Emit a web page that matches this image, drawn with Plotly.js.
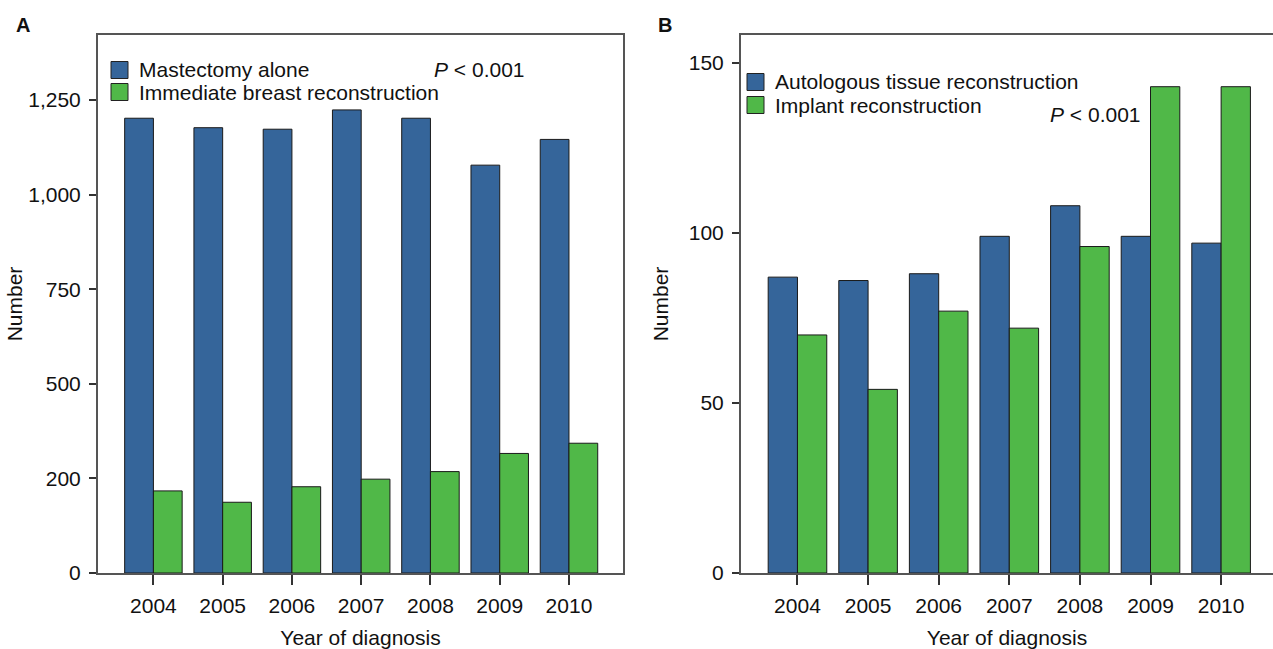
<!DOCTYPE html>
<html>
<head>
<meta charset="utf-8">
<script src="https://cdn.plot.ly/plotly-3.0.1.min.js"></script>
<style>html,body{margin:0;padding:0;background:#fff;}#chart{width:1273px;height:649px;}</style>
</head>
<body>
<div id="chart"></div>
<script>
// ---- Data ----
const years = ['2004', '2005', '2006', '2007', '2008', '2009', '2010'];
// Panel A
const mastectomyAlone = [1202, 1177, 1173, 1224, 1202, 1078, 1146];
const immediateReconstruction = [217, 187, 228, 248, 268, 316, 343];
const tickValsA = [0, 250, 500, 750, 1000, 1250];
const tickTextA = ['0', '200', '500', '750', '1,000', '1,250'];
// Panel B
const autologousTissue = [87, 86, 88, 99, 108, 99, 97];
const implantReconstruction = [70, 54, 77, 72, 96, 143, 143];
const tickValsB = [0, 50, 100, 150];
const tickTextB = ['0', '50', '100', '150'];
const seriesNamesA = ['Mastectomy alone', 'Immediate breast reconstruction'];
const seriesNamesB = ['Autologous tissue reconstruction', 'Implant reconstruction'];
const pText = '<i>P</i> &lt; 0.001';

// ---- Style ----
const W = 1273, H = 649;
const BLUE = '#35659a', GREEN = '#50b848';
const FONT = 'Liberation Sans, Arial, sans-serif';
const px = v => v / W;
const py = v => (H - v) / H;

const barLine = {color: '#1a1a1a', width: 1};

const traces = [
  {type: 'bar', x: years, y: mastectomyAlone, name: seriesNamesA[0], marker: {color: BLUE, line: barLine}, xaxis: 'x', yaxis: 'y', showlegend: false},
  {type: 'bar', x: years, y: immediateReconstruction, name: seriesNamesA[1], marker: {color: GREEN, line: barLine}, xaxis: 'x', yaxis: 'y', showlegend: false},
  {type: 'bar', x: years, y: autologousTissue, name: seriesNamesB[0], marker: {color: BLUE, line: barLine}, xaxis: 'x2', yaxis: 'y2', showlegend: false},
  {type: 'bar', x: years, y: implantReconstruction, name: seriesNamesB[1], marker: {color: GREEN, line: barLine}, xaxis: 'x2', yaxis: 'y2', showlegend: false}
];

const tickFont = {family: FONT, size: 21, color: '#111'};
const titleFont = {family: FONT, size: 21, color: '#111'};
const yDomain = [py(573), py(35)];

function xAxis(domain, range, anchor) {
  return {
    type: 'category', domain: domain, range: range, anchor: anchor,
    showline: true, linecolor: '#555', linewidth: 2, mirror: true,
    ticks: 'outside', ticklen: 10, tickwidth: 2, tickcolor: '#333',
    tickfont: tickFont, showgrid: false, zeroline: false, ticklabelstandoff: 3,
    title: {text: 'Year of diagnosis', font: titleFont, standoff: 17},
    automargin: false, fixedrange: true
  };
}
function yAxis(range, vals, text, anchor, mirror, standoff) {
  return {
    domain: yDomain, range: range, anchor: anchor,
    showline: true, linecolor: '#555', linewidth: 2, mirror: mirror,
    ticks: 'outside', ticklen: 7, tickwidth: 2, tickcolor: '#333',
    tickvals: vals, ticktext: text, tickfont: tickFont,
    showgrid: false, zeroline: false, ticklabelstandoff: 4,
    title: {text: 'Number', font: titleFont, standoff: standoff},
    automargin: false, fixedrange: true
  };
}

const shapes = [];
const annotations = [];
function legendItem(x0, yc, color, label) {
  shapes.push({type: 'rect', xref: 'paper', yref: 'paper',
    x0: px(x0), x1: px(x0 + 17), y0: py(yc + 8.5), y1: py(yc - 8.5),
    fillcolor: color, line: {color: '#222', width: 1}});
  annotations.push({xref: 'paper', yref: 'paper', x: px(x0 + 26), y: py(yc),
    xanchor: 'left', yanchor: 'middle', showarrow: false, text: label,
    font: {family: FONT, size: 21, color: '#111'}});
}
legendItem(111, 70, BLUE, seriesNamesA[0]);
legendItem(111, 92, GREEN, seriesNamesA[1]);
legendItem(747, 82, BLUE, seriesNamesB[0]);
legendItem(747, 105, GREEN, seriesNamesB[1]);

annotations.push({xref: 'paper', yref: 'paper', x: px(432), y: py(70), xanchor: 'left', yanchor: 'middle',
  showarrow: false, text: pText, font: {family: FONT, size: 21, color: '#111'}});
annotations.push({xref: 'paper', yref: 'paper', x: px(1048), y: py(115), xanchor: 'left', yanchor: 'middle',
  showarrow: false, text: pText, font: {family: FONT, size: 21, color: '#111'}});
annotations.push({xref: 'paper', yref: 'paper', x: px(14), y: py(25), xanchor: 'left', yanchor: 'middle',
  showarrow: false, text: '<b>A</b>', font: {family: FONT, size: 20, color: '#111'}});
annotations.push({xref: 'paper', yref: 'paper', x: px(656), y: py(25), xanchor: 'left', yanchor: 'middle',
  showarrow: false, text: '<b>B</b>', font: {family: FONT, size: 20, color: '#111'}});

const layout = {
  width: W, height: H,
  margin: {l: 0, r: 0, t: 0, b: 0, pad: 0},
  paper_bgcolor: '#fff', plot_bgcolor: '#fff',
  barmode: 'group', bargap: 0.17, bargroupgap: 0,
  showlegend: false,
  xaxis: xAxis([px(98), px(623)], [-0.80, 6.78], 'y'),
  yaxis: yAxis([0, 1422], tickValsA, tickTextA, 'x', true, 0),
  xaxis2: xAxis([px(741), 1], [-0.80, 6.735], 'y2'),
  yaxis2: yAxis([0, 158.2], tickValsB, tickTextB, 'x2', false, 14),
  shapes: shapes,
  annotations: annotations,
  font: {family: FONT, color: '#111'}
};

Plotly.newPlot('chart', traces, layout, {displayModeBar: false, staticPlot: true});
</script>
</body>
</html>
